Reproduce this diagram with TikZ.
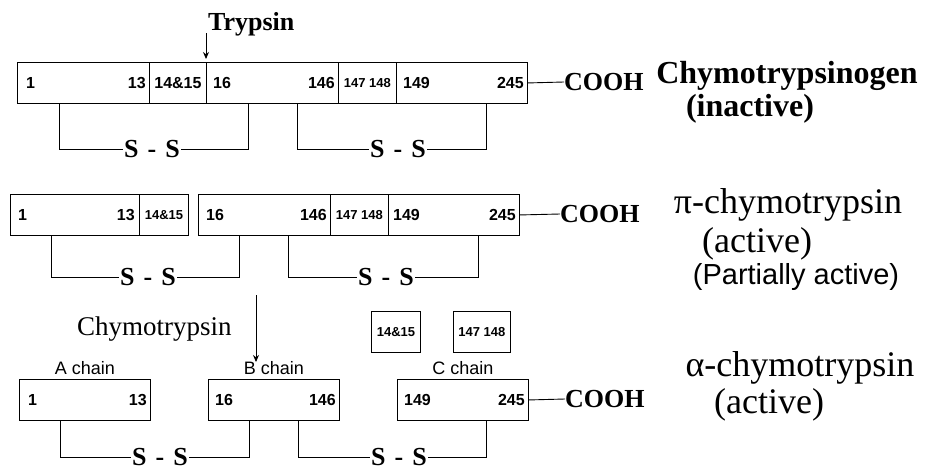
\documentclass[tikz,border=0pt]{standalone}
\usepackage{fontspec}
\setmainfont{Liberation Serif}
\setsansfont{Liberation Sans}
\usetikzlibrary{positioning,arrows.meta}

\newcommand{\sz}[1]{\fontsize{#1}{#1}\selectfont}
\newcommand{\bridge}{S\hspace{0.35em}-\hspace{0.35em}S}

\begin{document}
\begin{tikzpicture}[x=1pt,y=-1pt,
  seg/.style={draw, line width=0.9pt, inner sep=0pt, minimum height=41pt, anchor=north west},
  num/.style={font=\sffamily\bfseries\sz{16}, inner sep=0pt},
  smallnum/.style={font=\sffamily\bfseries\sz{13}, inner sep=0pt},
  ss/.style={font=\bfseries\sz{26}, inner sep=1pt},
  cooh/.style={font=\bfseries\sz{26}, inner sep=0pt, anchor=west},
  bond/.style={line width=0.9pt},
  cutarrow/.style={line width=0.9pt, -{Stealth[length=7pt,width=6pt]}},
  enzname/.style={font=\sz{36}, inner sep=0pt, anchor=base},
  chainlbl/.style={font=\sffamily\sz{18}, inner sep=0pt}]

\useasboundingbox (0,0) rectangle (928,471);

% Chymotrypsinogen
\node[seg, minimum width=132pt] (s1a) at (17,62) {};
\node[seg, minimum width=57pt] (s1b) at (149,62) {};
\node[seg, minimum width=132pt] (s1c) at (206,62) {};
\node[seg, minimum width=58pt] (s1d) at (338,62) {};
\node[seg, minimum width=131pt] (s1e) at (396,62) {};

\node[num, anchor=west] (n1a) at ([xshift=9pt]s1a.west) {1};
\node[num, anchor=east] (m1a) at ([xshift=-4pt]s1a.east) {13};
\node[num] (n1b) at (s1b) {14\&15};
\node[num, anchor=west] (n1c) at ([xshift=7pt]s1c.west) {16};
\node[num, anchor=east] (m1c) at ([xshift=-4pt]s1c.east) {146};
\node[smallnum] (n1d) at (s1d) {147 148};
\node[num, anchor=west] (n1e) at ([xshift=7pt]s1e.west) {149};
\node[num, anchor=east] (m1e) at ([xshift=-4pt]s1e.east) {245};

\node[cooh] (cooh1) at (564,82) {COOH};
\draw[bond] (s1e.east) -- (cooh1.west);

\coordinate (tr0) at (206,33);
\node[font=\bfseries\sz{26}, inner sep=0pt, anchor=base west] (tryp) at (208,30) {Trypsin};
\draw[cutarrow, shorten >=3pt] (tr0) -- (s1c.north west);

\node[ss] (ss1) at (152,149) {\bridge};
\node[ss] (ss2) at (398,149) {\bridge};
\draw[bond] ([xshift=42pt]s1a.south west) |- (ss1.west);
\draw[bond] (ss1.east) -| ([xshift=42pt]s1c.south west);
\draw[bond] ([xshift=91pt]s1c.south west) |- (ss2.west);
\draw[bond] (ss2.east) -| ([xshift=90pt]s1e.south west);

\node[enzname, font=\bfseries\sz{32}] (zym) at (787,83) {Chymotrypsinogen};
\node[enzname, font=\bfseries\sz{32}] (zymb) at (750,116) {(inactive)};

% pi-chymotrypsin
\node[seg, minimum width=129pt] (s2a) at (10,194) {};
\node[seg, minimum width=49pt] (s2b) at (139,194) {};
\node[seg, minimum width=132pt] (s2c) at (198,194) {};
\node[seg, minimum width=58pt] (s2d) at (330,194) {};
\node[seg, minimum width=131pt] (s2e) at (388,194) {};

\node[num, anchor=west] (n2a) at ([xshift=8pt]s2a.west) {1};
\node[num, anchor=east] (m2a) at ([xshift=-5pt]s2a.east) {13};
\node[smallnum] (n2b) at (s2b) {14\&15};
\node[num, anchor=west] (n2c) at ([xshift=8pt]s2c.west) {16};
\node[num, anchor=east] (m2c) at ([xshift=-4pt]s2c.east) {146};
\node[smallnum] (n2d) at (s2d) {147 148};
\node[num, anchor=west] (n2e) at ([xshift=5pt]s2e.west) {149};
\node[num, anchor=east] (m2e) at ([xshift=-4pt]s2e.east) {245};

\node[cooh] (cooh2) at (560,214) {COOH};
\draw[bond] (s2e.east) -- (cooh2.west);

\node[ss] (ss3) at (148,277) {\bridge};
\node[ss] (ss4) at (386,277) {\bridge};
\draw[bond] ([xshift=41pt]s2a.south west) |- (ss3.west);
\draw[bond] (ss3.east) -| ([xshift=41pt]s2c.south west);
\draw[bond] ([xshift=90pt]s2c.south west) |- (ss4.west);
\draw[bond] (ss4.east) -| ([xshift=90pt]s2e.south west);

\node[enzname] (pi) at (788,213) {π-chymotrypsin};
\node[enzname] (pib) at (757,252) {(active)};
\node[enzname, font=\sffamily\sz{29}] (pic) at (796,284) {(Partially active)};

% released dipeptides
\node[seg, minimum height=41pt, minimum width=49pt] (k1) at (371,311) {};
\node[seg, minimum height=41pt, minimum width=57pt] (k2) at (453,311) {};
\node[smallnum] (nk1) at (k1) {14\&15};
\node[smallnum] (nk2) at (k2) {147 148};

\node[font=\sz{27}, inner sep=0pt, anchor=base west] (chym) at (77,335) {Chymotrypsin};
\coordinate (ch0) at (256,295);
\coordinate (ch1) at (256,362);
\draw[cutarrow] (ch0) -- (ch1);

% alpha-chymotrypsin
\node[seg, minimum width=131pt] (s3a) at (19,379) {};
\node[seg, minimum width=131pt] (s3b) at (208,379) {};
\node[seg, minimum width=131pt] (s3c) at (397,379) {};

\node[chainlbl, above=4pt of s3a] (ca) {A chain};
\node[chainlbl, above=4pt of s3b] (cb) {B chain};
\node[chainlbl, above=4pt of s3c] (cc) {C chain};

\node[num, anchor=west] (n3a) at ([xshift=9pt]s3a.west) {1};
\node[num, anchor=east] (m3a) at ([xshift=-4pt]s3a.east) {13};
\node[num, anchor=west] (n3b) at ([xshift=7pt]s3b.west) {16};
\node[num, anchor=east] (m3b) at ([xshift=-4pt]s3b.east) {146};
\node[num, anchor=west] (n3c) at ([xshift=7pt]s3c.west) {149};
\node[num, anchor=east] (m3c) at ([xshift=-4pt]s3c.east) {245};

\node[cooh] (cooh3) at (565,399) {COOH};
\draw[bond] (s3c.east) -- (cooh3.west);

\node[ss] (ss5) at (160,457) {\bridge};
\node[ss] (ss6) at (399,457) {\bridge};
\draw[bond] ([xshift=41pt]s3a.south west) |- (ss5.west);
\draw[bond] (ss5.east) -| ([xshift=41pt]s3b.south west);
\draw[bond] ([xshift=90pt]s3b.south west) |- (ss6.west);
\draw[bond] (ss6.east) -| ([xshift=89pt]s3c.south west);

\node[enzname] (al) at (800,376) {α-chymotrypsin};
\node[enzname] (alb) at (769,413) {(active)};

\end{tikzpicture}
\end{document}
